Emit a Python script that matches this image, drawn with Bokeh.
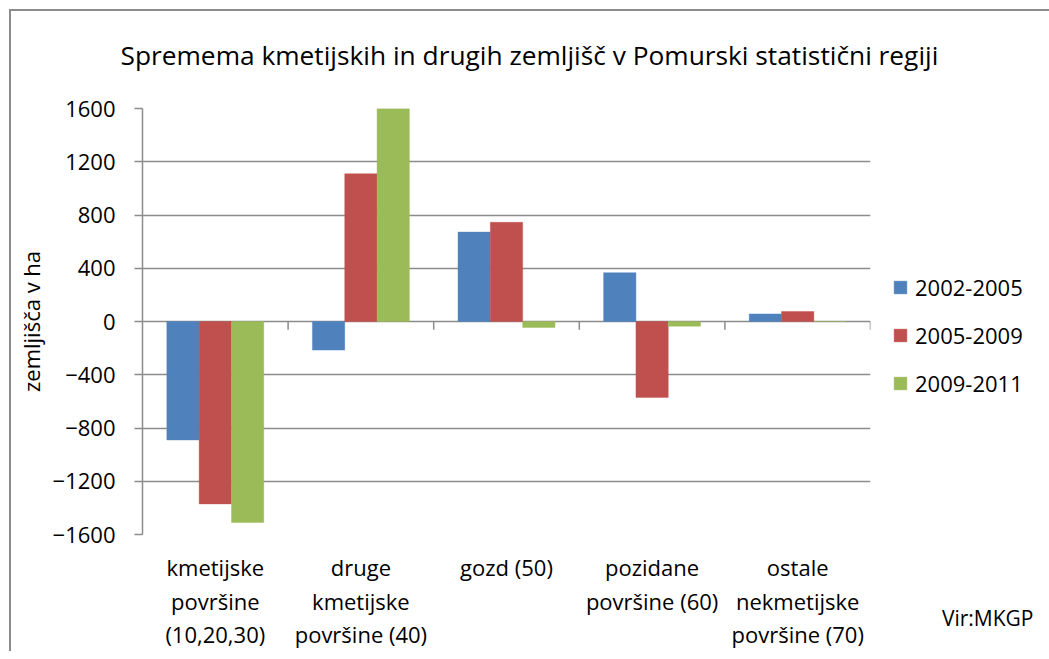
from bokeh.plotting import figure
from bokeh.models import (FactorRange, Range1d, Legend, LegendItem, Title,
                          ColumnDataSource, FixedTicker, CategoricalAxis)
from bokeh.transform import dodge
from bokeh.embed import file_html
from bokeh.resources import INLINE

# ---------------- data ----------------
categories = ["kmetijske površine (10,20,30)", "druge kmetijske površine (40)",
              "gozd (50)", "pozidane površine (60)", "ostale nekmetijske površine (70)"]
label_line1 = ["kmetijske", "druge", "gozd (50)", "pozidane", "ostale"]
label_line2 = ["površine", "kmetijske", "", "površine (60)", "nekmetijske"]
label_line3 = ["(10,20,30)", "površine (40)", "", "", "površine (70)"]
series = ["2002-2005", "2005-2009", "2009-2011"]
v_2002_2005 = [-890, -215, 672, 367, 57]
v_2005_2009 = [-1370, 1110, 745, -570, 75]
v_2009_2011 = [-1510, 1600, -45, -35, 0]
colors = ["#4F81BD", "#C0504D", "#9BBB59"]
y_ticks = [-1600, -1200, -800, -400, 0, 400, 800, 1200, 1600]
title_text = "Spremema kmetijskih in drugih zemljišč v Pomurski statistični regiji"
y_label = "zemljišča v ha"
source_text = "Vir:MKGP"

FONT = "Open Sans"
GRID = "#8c8c8c"

src = ColumnDataSource(dict(cat=categories, a=v_2002_2005, b=v_2005_2009, c=v_2009_2011))

p = figure(x_range=FactorRange(*categories, range_padding=0),
           y_range=Range1d(y_ticks[0], y_ticks[-1]),
           x_axis_location=None, title_location=None,
           frame_width=728, frame_height=426,
           min_border_left=131, min_border_right=171,
           min_border_top=97, min_border_bottom=10,
           output_backend="svg", toolbar_location=None)
p.outline_line_color = None
p.background_fill_color = "white"
p.border_fill_color = "white"
p.styles = {"border-left": "2px solid #8c8c8c", "border-top": "2px solid #8c8c8c",
            "margin-left": "9px", "margin-top": "9px", "margin-bottom": "-160px"}

bw = 0.222
renderers = []
for i, (col, color) in enumerate(zip(["a", "b", "c"], colors)):
    r = p.vbar(x=dodge("cat", (i - 1) * bw, range=p.x_range), top=col, bottom=0,
               width=bw, source=src, fill_color=color, line_color=color,
               line_alpha=0.4, line_width=1)
    renderers.append(r)

# tick marks at category boundaries on the zero line
bounds = [float(i) for i in range(1, len(categories) + 1)]
p.segment(x0=bounds, y0=[0] * len(bounds), x1=bounds, y1=[-62] * len(bounds),
          line_color=GRID, line_width=1.5)

# y axis
p.yaxis.ticker = FixedTicker(ticks=y_ticks)
p.yaxis.axis_line_color = GRID
p.yaxis.axis_line_width = 1.5
p.yaxis.major_tick_line_color = GRID
p.yaxis.major_tick_line_width = 1.5
p.yaxis.major_tick_out = 8
p.yaxis.major_tick_in = 0
p.yaxis.minor_tick_line_color = None
p.yaxis.major_label_text_font = FONT
p.yaxis.major_label_text_font_size = "22px"
p.yaxis.major_label_text_color = "black"
p.yaxis.major_label_standoff = 19
p.yaxis.axis_label = y_label
p.yaxis.axis_label_text_font = FONT
p.yaxis.axis_label_text_font_size = "22px"
p.yaxis.axis_label_text_font_style = "normal"
p.yaxis.axis_label_text_color = "black"
p.yaxis.axis_label_standoff = 4

# x axis: three stacked category axes, one per text line of the category names
for n, (lines, standoff) in enumerate([(label_line1, 11), (label_line2, -5), (label_line3, -6)]):
    factors = [s if s else " " * (k + 1) for k, s in enumerate(lines)]
    name = "line%d" % (n + 1)
    p.extra_x_ranges[name] = FactorRange(*factors, range_padding=0)
    ax = CategoricalAxis(x_range_name=name)
    ax.axis_line_color = None
    ax.major_tick_line_color = None
    ax.minor_tick_line_color = None
    ax.major_label_text_font = FONT
    ax.major_label_text_font_size = "22px"
    ax.major_label_text_color = "black"
    ax.major_label_standoff = standoff
    p.add_layout(ax, "below")

p.xgrid.grid_line_color = None
p.ygrid.ticker = FixedTicker(ticks=y_ticks)
p.ygrid.grid_line_color = GRID
p.ygrid.grid_line_width = 1.5

# title: a thin spacer next to the frame, then the title text
p.add_layout(Title(text=" ", text_font_size="1px", standoff=33), "above")
p.add_layout(Title(text=title_text, align="left", offset=-22, standoff=0,
                   text_font=FONT, text_font_size="26.3px", text_font_style="normal",
                   text_color="black"), "above")

# source note
p.add_layout(Title(text=source_text, align="right", offset=-163, standoff=-96,
                   vertical_align="top",
                   text_font=FONT, text_font_size="21px", text_font_style="normal",
                   text_color="black"), "below")

legend = Legend(items=[LegendItem(label=s, renderers=[r]) for s, r in zip(series, renderers)],
                location=(22, 136), orientation="vertical",
                glyph_width=16, glyph_height=16, label_standoff=7,
                spacing=18, padding=0, margin=0,
                label_text_font=FONT, label_text_font_size="22px",
                label_text_color="black",
                border_line_color=None, background_fill_alpha=0)
p.add_layout(legend, "right")

open("out.html", "w").write(file_html(p, INLINE))
